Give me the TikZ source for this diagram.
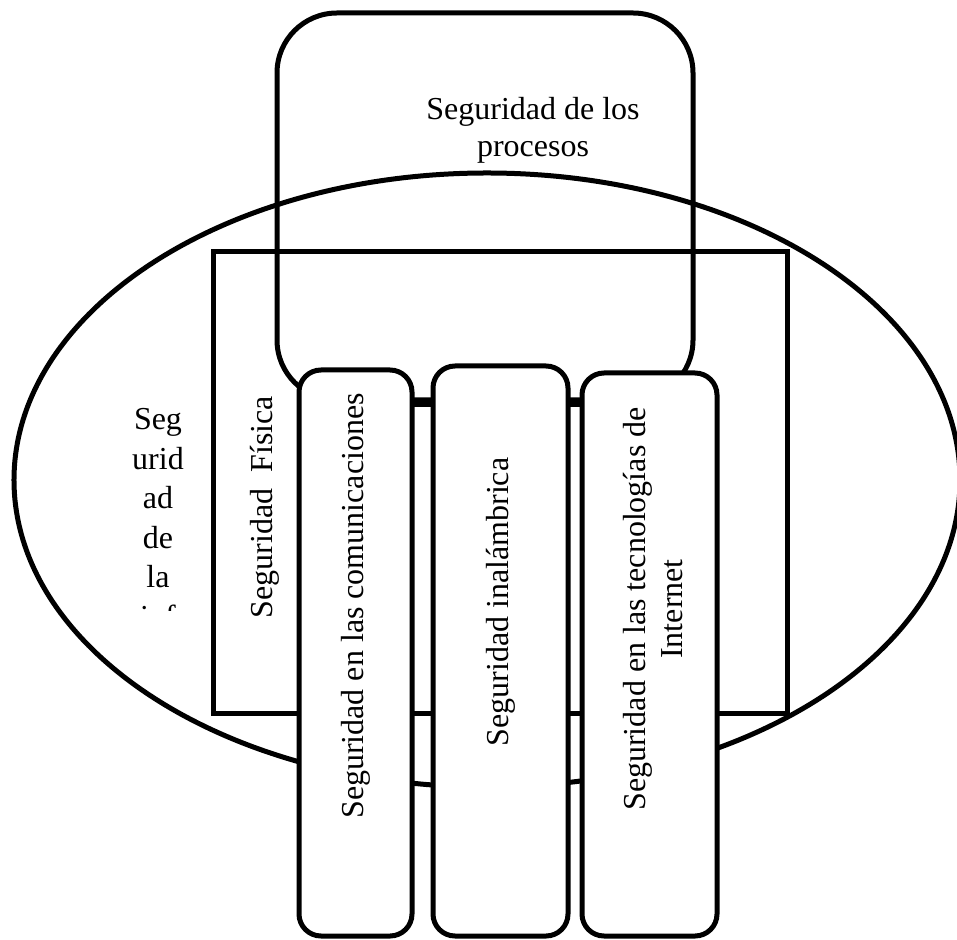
\documentclass[tikz,border=0pt]{standalone}
\usepackage{fontspec}
\setmainfont{Liberation Serif}
\usetikzlibrary{positioning}

\tikzset{
  linea/.style={line width=1mm},
  caja/.style={draw,line width=1mm,fill=white,rounded corners=4.4mm},
  texto/.style={font=\fontsize{18.2}{21}\selectfont,inner sep=0pt,align=center},
}

\begin{document}
\begin{tikzpicture}[x=0.2mm,y=-0.2mm]
\useasboundingbox (0,0) rectangle (957,940);
\clip (0,0) rectangle (957,940);
\coordinate (O) at (487,480);
\coordinate (R1) at (213,252);
\coordinate (R2) at (787,713);
\coordinate (P1) at (277,13);
\coordinate (P2) at (693,400);

\draw[linea] (O) ellipse [x radius=94.6mm,y radius=61.4mm];
\draw[linea] (R1) rectangle (R2);
\draw[linea,rounded corners=12mm] (P1) rectangle (P2);
\draw[linea] (320,405)--(700,405);

\node at (355.5,653)[caja,minimum width=22.6mm,minimum height=113.2mm] (com){};
\node at (500.5,651)[caja,minimum width=27mm,minimum height=114mm] (ina){};
\node at (649.5,654.5)[caja,minimum width=27mm,minimum height=112.6mm] (int){};

\node at (533,130)[texto] (tproc){Seguridad de los\\procesos};
\begin{scope}
\clip (100,380) rectangle (215,610);
\node at (158,408)[texto,anchor=north,font=\fontsize{18.2}{22.5}\selectfont] (tinfo){Seg\\urid\\ad\\de\\la\\inf};
\end{scope}
\node at (265,507)[texto,rotate=90] (tfis){Seguridad~ Física};
\node at (com.center|-0,606)[texto,rotate=90] (tcom){Seguridad en las comunicaciones};
\node at (ina.center|-0,602)[texto,rotate=90] (tina){Seguridad inalámbrica};
\node at (653,609)[texto,rotate=90] (tint){Seguridad en las tecnologías de\\Internet};

\end{tikzpicture}
\end{document}
